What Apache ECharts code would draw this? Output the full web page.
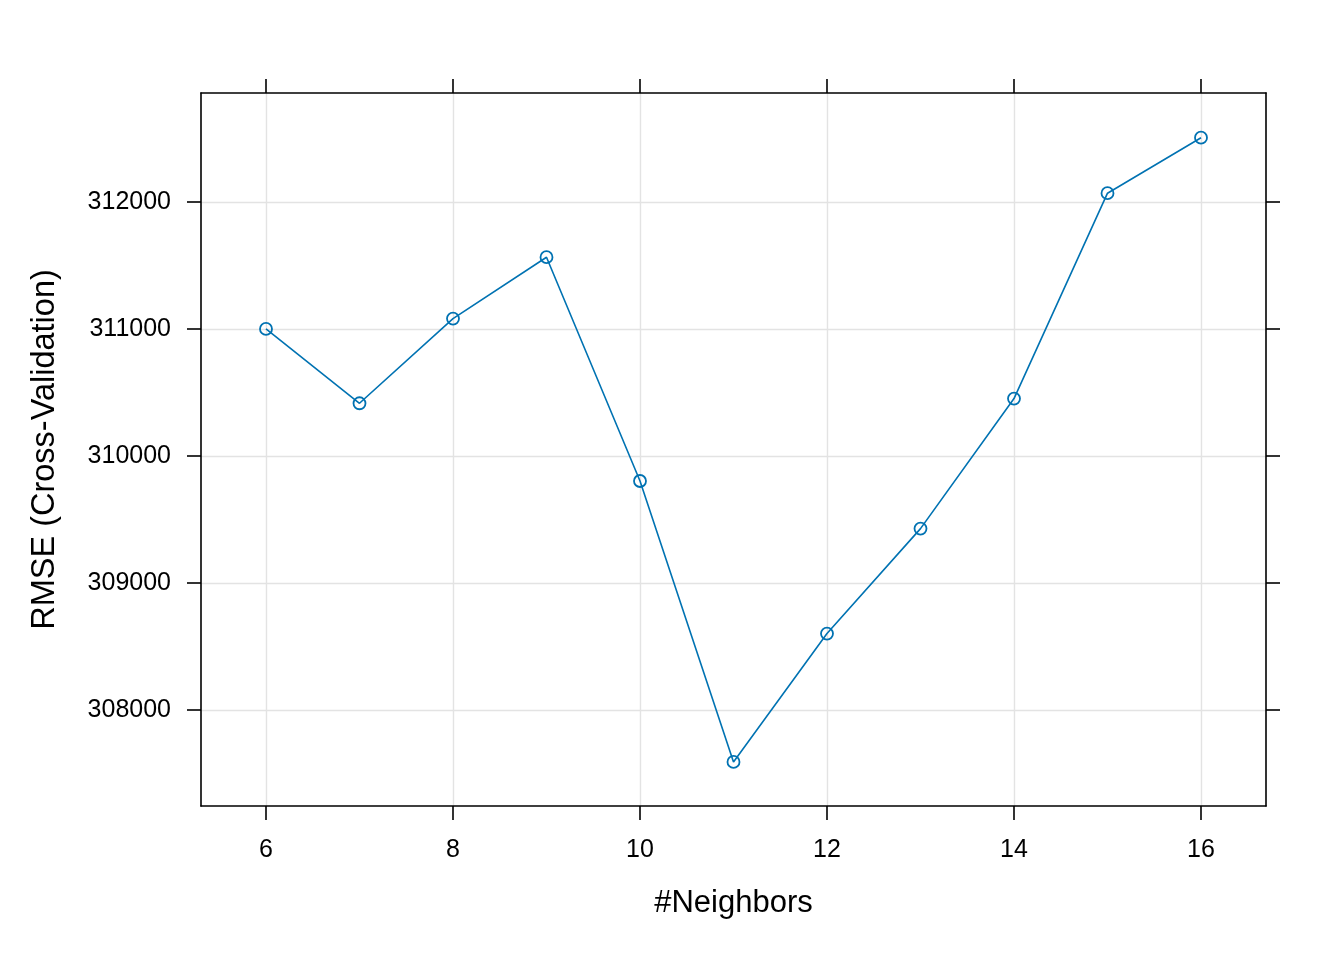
<!DOCTYPE html>
<html>
<head>
<meta charset="utf-8">
<script src="https://cdn.jsdelivr.net/npm/echarts@6/dist/echarts.min.js"></script>
<style>
html,body{margin:0;padding:0;background:#fff;}
#chart{width:1344px;height:960px;}
</style>
</head>
<body>
<div id="chart"></div>
<script>
const neighbors = [6, 7, 8, 9, 10, 11, 12, 13, 14, 15, 16];
const rmse = [311000, 310415, 311082, 311565, 309803, 307591, 308602, 309428, 310452, 312069, 312506];
const xTicks = [6, 8, 10, 12, 14, 16];
const yTicks = [308000, 309000, 310000, 311000, 312000];
const xTitle = '#Neighbors';
const yTitle = 'RMSE (Cross-Validation)';

const FONT = '"Liberation Sans", Arial, sans-serif';
const xMin = 5.3048, xMax = 16.6952;
const yMin = 307244, yMax = 312858;
const lineCol = '#0072B2';
const frame = {show: true, onZero: false, lineStyle: {color: '#000', width: 1.6}};
const tickStyle = {color: '#000', width: 1.6};
const gridLine = {show: true, lineStyle: {color: '#e3e3e3', width: 1.4}};

const chart = echarts.init(document.getElementById('chart'));
chart.setOption({
  backgroundColor: '#fff',
  animation: false,
  grid: {left: 201, top: 93, width: 1065, height: 713, containLabel: false},
  xAxis: [
    {
      type: 'value', position: 'bottom', min: xMin, max: xMax,
      axisLine: frame,
      axisTick: {show: true, inside: false, length: 14, customValues: xTicks, lineStyle: tickStyle},
      axisLabel: {show: true, customValues: xTicks, margin: 32, fontSize: 25, color: '#000', fontFamily: FONT, formatter: v => String(v)},
      splitLine: gridLine,
      name: xTitle, nameLocation: 'middle', nameGap: 82,
      nameTextStyle: {fontSize: 31, color: '#000', fontFamily: FONT}
    },
    {
      type: 'value', position: 'top', min: xMin, max: xMax,
      axisLine: frame,
      axisTick: {show: true, inside: false, length: 14, customValues: xTicks, lineStyle: tickStyle},
      axisLabel: {show: false},
      splitLine: {show: false}
    }
  ],
  yAxis: [
    {
      type: 'value', position: 'left', min: yMin, max: yMax,
      axisLine: frame,
      axisTick: {show: true, inside: false, length: 14, customValues: yTicks, lineStyle: tickStyle},
      axisLabel: {show: true, customValues: yTicks, margin: 30, fontSize: 25, color: '#000', fontFamily: FONT, padding: [4, 0, 0, 0], formatter: v => String(v)},
      splitLine: gridLine,
      name: yTitle, nameLocation: 'middle', nameGap: 139, nameRotate: 90,
      nameTextStyle: {fontSize: 32.5, color: '#000', fontFamily: FONT}
    },
    {
      type: 'value', position: 'right', min: yMin, max: yMax,
      axisLine: frame,
      axisTick: {show: true, inside: false, length: 14, customValues: yTicks, lineStyle: tickStyle},
      axisLabel: {show: false},
      splitLine: {show: false}
    }
  ],
  series: [{
    type: 'line',
    xAxisIndex: 0, yAxisIndex: 0,
    data: neighbors.map((n, i) => [n, rmse[i]]),
    symbol: 'circle',
    symbolSize: 12,
    showAllSymbol: true,
    clip: false,
    lineStyle: {color: lineCol, width: 1.6},
    itemStyle: {color: 'transparent', borderColor: lineCol, borderWidth: 1.8}
  }]
});
</script>
</body>
</html>
